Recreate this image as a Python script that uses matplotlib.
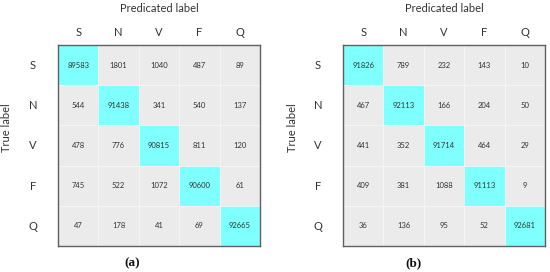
import matplotlib.pyplot as plt
import numpy as np
from matplotlib.colors import ListedColormap
from matplotlib.font_manager import FontProperties

# class names and confusion matrices
classes = ['S', 'N', 'V', 'F', 'Q']
cm_a = np.array([[89583, 1801, 1040, 487, 89],
                 [544, 91438, 341, 540, 137],
                 [478, 776, 90815, 811, 120],
                 [745, 522, 1072, 90600, 61],
                 [47, 178, 41, 69, 92665]])
cm_b = np.array([[91826, 789, 232, 143, 10],
                 [467, 92113, 166, 204, 50],
                 [441, 352, 91714, 464, 29],
                 [409, 381, 1088, 91113, 9],
                 [36, 136, 95, 52, 92681]])
captions = ['(a)', '(b)']

plt.rcParams['font.family'] = ['Lato', 'DejaVu Sans']

W, H = 550, 272
fig = plt.figure(figsize=(W / 100, H / 100), dpi=100)

cyan = '#80FFFF'
grey = '#EBEBEB'
capfont = FontProperties(family='Liberation Serif', weight='bold', size=9.5)

def draw(cm, left, caption, lab_x, cap_x):
    ax = fig.add_axes([left / W, (H - 246) / H, 202 / W, 201 / H])
    n = len(classes)
    colors = np.where(np.eye(n, dtype=bool), 1, 0)
    ax.imshow(colors, cmap=ListedColormap([grey, cyan]), aspect='auto',
              extent=(-0.5, n - 0.5, n - 0.5, -0.5))
    for k in range(1, n):
        ax.axhline(k - 0.5, color='#F6F6F6', lw=0.6)
        ax.axvline(k - 0.5, color='#F6F6F6', lw=0.6)
    for i in range(n):
        for j in range(n):
            ax.text(j, i, str(cm[i, j]), ha='center', va='center',
                    fontsize=5.5, color='#333333')
    ax.set_xticks([])
    ax.set_yticks([])
    for s in ax.spines.values():
        s.set_color('#606060')
        s.set_linewidth(1.0)
    # column and row labels
    for j, c in enumerate(classes):
        fig.text((left + 20.2 + 40.4 * j) / W, (H - 32) / H, c,
                 ha='center', va='center', fontsize=8, color='#333333')
        fig.text(lab_x / W, (H - (65.5 + 40.2 * j)) / H, c,
                 ha='center', va='center', fontsize=8, color='#333333')
    fig.text((left + 101) / W, (H - 9) / H, 'Predicated label',
             ha='center', va='center', fontsize=8, color='#333333')
    fig.text((lab_x - 26) / W, (H - 128) / H, 'True label', rotation=90,
             ha='center', va='center', fontsize=8, color='#333333')
    fig.text(cap_x / W, (H - 263) / H, caption, ha='center', va='center',
             fontproperties=capfont, color='#111111')

draw(cm_a, 58, captions[0], 33, 132)
draw(cm_b, 343, captions[1], 318, 414)

fig.savefig('out.png', dpi=100)
